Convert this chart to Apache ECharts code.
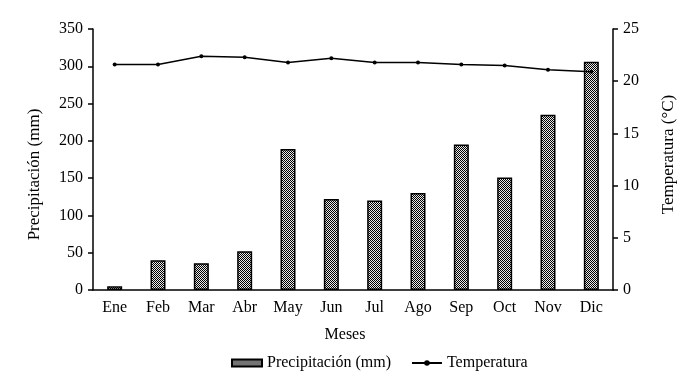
<!DOCTYPE html>
<html><head><meta charset="utf-8">
<script src="https://cdn.jsdelivr.net/npm/echarts@6/dist/echarts.min.js"></script>
<style>html,body{margin:0;padding:0;background:#fff}#c{width:694px;height:386px}</style>
</head><body><div id="c"></div>
<script>
const months = ['Ene','Feb','Mar','Abr','May','Jun','Jul','Ago','Sep','Oct','Nov','Dic'];
const precipitacion = [5, 40, 36, 52, 189, 122, 120, 130, 195, 151, 235, 306];
const temperatura = [21.6, 21.6, 22.4, 22.3, 21.8, 22.2, 21.8, 21.8, 21.6, 21.5, 21.1, 20.9];
const leftTicks = [0, 350, 50];
const rightTicks = [0, 25, 5];

const pc = document.createElement('canvas');
pc.width = 2; pc.height = 2;
const g = pc.getContext('2d');
g.fillStyle = '#e8e8e8'; g.fillRect(0,0,2,2);
g.fillStyle = '#000'; g.fillRect(0,0,1,1); g.fillRect(1,1,1,1);

const font = 'Liberation Serif';
const chart = echarts.init(document.getElementById('c'), null, {renderer:'canvas'});
chart.setOption({
  animation:false,
  textStyle:{fontFamily:font, color:'#000'},
  grid:{left:93, right:81, top:29, bottom:96},
  legend:{
    bottom:10, left:226, itemGap:20, itemWidth:30, itemHeight:7,
    textStyle:{fontFamily:font, fontSize:16, color:'#000'},
    data:[{name:'Precipitación (mm)', icon:'rect'},{name:'Temperatura'}]
  },
  xAxis:{
    type:'category', data:months,
    name:'Meses', nameLocation:'middle', nameGap:37,
    nameTextStyle:{fontFamily:font, fontSize:16, color:'#000', padding:[0,16,0,0]},
    axisLine:{lineStyle:{color:'#000', width:1.5}},
    axisTick:{show:false},
    axisLabel:{fontFamily:font, fontSize:16, color:'#000', margin:10}
  },
  yAxis:[{
    type:'value', min:leftTicks[0], max:leftTicks[1], interval:leftTicks[2],
    name:'Precipitación (mm)', nameLocation:'middle', nameGap:50, nameRotate:90,
    nameTextStyle:{fontFamily:font, fontSize:17, color:'#000', padding:[0,30,0,0]},
    axisLine:{show:true, lineStyle:{color:'#000', width:1.5}},
    axisTick:{show:true, length:5, lineStyle:{color:'#000', width:1.5}},
    splitLine:{show:false},
    axisLabel:{fontFamily:font, fontSize:16, color:'#000', margin:10}
  },{
    type:'value', min:rightTicks[0], max:rightTicks[1], interval:rightTicks[2],
    name:'Temperatura (°C)', nameLocation:'middle', nameGap:47, nameRotate:90,
    nameTextStyle:{fontFamily:font, fontSize:17, color:'#000', padding:[0,0,0,10]},
    axisLine:{show:true, lineStyle:{color:'#000', width:1.5}},
    axisTick:{show:true, length:5, lineStyle:{color:'#000', width:1.5}},
    splitLine:{show:false},
    axisLabel:{fontFamily:font, fontSize:16, color:'#000', margin:10}
  }],
  series:[{
    name:'Precipitación (mm)', type:'bar', yAxisIndex:0, data:precipitacion,
    barWidth:15,
    itemStyle:{color:{image:pc, repeat:'repeat'}, borderColor:'#000', borderWidth:1.5}
  },{
    name:'Temperatura', type:'line', yAxisIndex:1, data:temperatura,
    symbol:'circle', symbolSize:4,
    lineStyle:{color:'#000', width:1.5},
    itemStyle:{color:'#000'}
  }]
});
</script></body></html>
